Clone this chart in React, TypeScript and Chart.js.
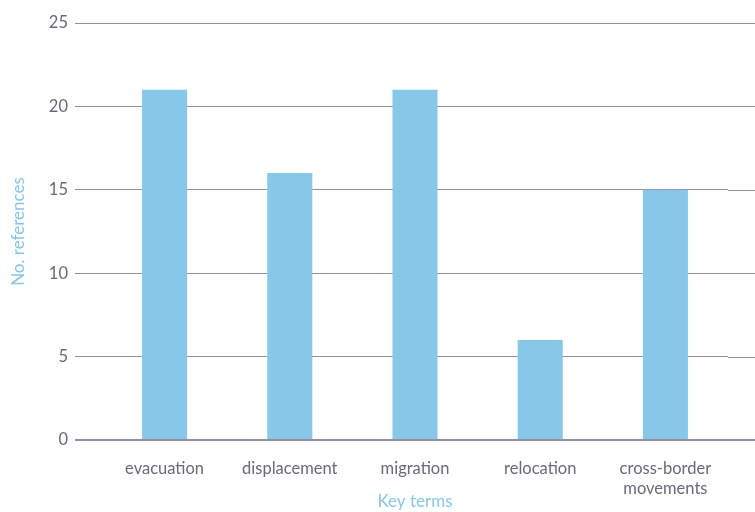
import React, { useEffect, useRef } from "react";
import { Chart, registerables } from "chart.js";

Chart.register(...registerables);

const categories: (string | string[])[] = [
  "evacuation",
  "displacement",
  "migration",
  "relocation",
  ["cross-border", "movements"],
];
const references = [21, 16, 21, 6, 15];
const yTicks = [0, 5, 10, 15, 20, 25];

const GRID = "#928fa2";
const TICK = "#6c687a";
const BLUE = "#87c7e8";
const FONT = "Lato, 'Open Sans', sans-serif";

const extendGrid = {
  id: "extendGrid",
  beforeDatasetsDraw(chart: any) {
    const { ctx, chartArea, scales } = chart;
    const y = scales.y;
    ctx.save();
    ctx.strokeStyle = GRID;
    ctx.lineWidth = 1;
    for (const v of yTicks) {
      const py = Math.round(y.getPixelForValue(v)) + 0.5;
      ctx.beginPath();
      ctx.moveTo(chartArea.right, py);
      ctx.lineTo(chart.width, py);
      ctx.stroke();
    }
    ctx.restore();
  },
  afterDatasetsDraw(chart: any) {
    const { ctx, chartArea, scales } = chart;
    const y = scales.y;
    ctx.save();
    ctx.strokeStyle = GRID;
    ctx.lineWidth = 2;
    const py0 = Math.round(y.getPixelForValue(0));
    ctx.beginPath();
    ctx.moveTo(chartArea.left - 27, py0);
    ctx.lineTo(chart.width, py0);
    ctx.stroke();
    ctx.restore();
  },
};

export default function App() {
  const ref = useRef<HTMLCanvasElement>(null);
  useEffect(() => {
    if (!ref.current) return;
    const chart = new Chart(ref.current, {
      type: "bar",
      data: {
        labels: categories,
        datasets: [
          {
            data: references,
            backgroundColor: BLUE,
            borderWidth: 0,
            inflateAmount: 0,
            barPercentage: 0.72,
            categoryPercentage: 0.5,
          },
        ],
      },
      options: {
        responsive: false,
        animation: false,
        layout: { padding: { top: 23, right: 27, left: 0, bottom: 0 } },
        plugins: { legend: { display: false }, tooltip: { enabled: false } },
        scales: {
          x: {
            grid: { display: false },
            border: { display: false },
            ticks: {
              color: TICK,
              font: { family: FONT, size: 16.5 },
              padding: 11,
              maxRotation: 0,
            },
            title: {
              display: true,
              text: "Key terms",
              color: BLUE,
              font: { family: FONT, size: 17 },
              padding: { top: 0, bottom: 0 },
            },
            afterFit(scale: any) {
              scale.height = 72;
            },
          },
          y: {
            min: 0,
            max: 25,
            afterBuildTicks(scale: any) {
              scale.ticks = yTicks.map((v) => ({ value: v }));
            },
            grid: {
              color: GRID,
              lineWidth: 1,
              tickLength: 27,
              drawTicks: true,
            },
            border: { display: false },
            ticks: {
              color: TICK,
              font: { family: FONT, size: 16.5 },
              padding: 7,
            },
            title: {
              display: true,
              text: "No. references",
              color: BLUE,
              font: { family: FONT, size: 17 },
              padding: { top: 8, bottom: 0 },
            },
            afterFit(scale: any) {
              scale.width = 102;
            },
          },
        },
      },
      plugins: [extendGrid],
    });
    return () => chart.destroy();
  }, []);
  return (
    <div style={{ position: "fixed", left: 0, top: 0, width: 755, height: 512, background: "#fff" }}>
      <canvas ref={ref} width={755} height={512} />
    </div>
  );
}
